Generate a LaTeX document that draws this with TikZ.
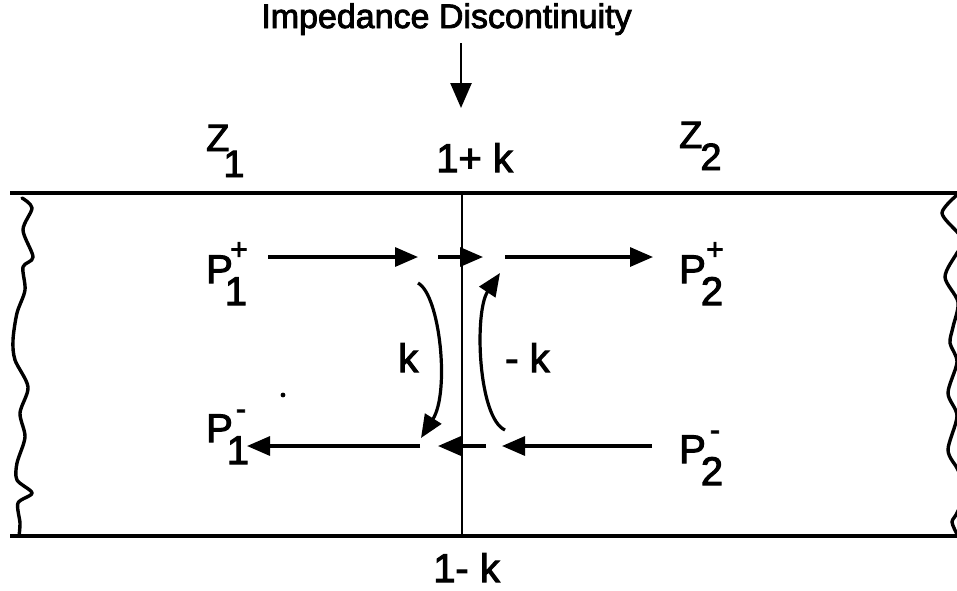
\documentclass[tikz,border=0pt]{standalone}
\usepackage{fontspec}
\setmainfont{Liberation Sans}[FakeBold=2.5]
\usetikzlibrary{arrows.meta}
\newsavebox\subbx
% #1 sub, #2 sup, #3 kern, #4 raise of sup
\newcommand{\Plab}[4]{P\kern#3\sbox\subbx{#1}\rlap{\raisebox{-22pt}{\usebox\subbx}}\makebox[\wd\subbx][c]{\kern6pt\raisebox{#4}{\fontsize{30}{30}\selectfont #2}}}
\begin{document}
\begin{tikzpicture}[x=1pt,y=-1pt,
  lab/.style={font=\fontsize{40}{40}\selectfont, inner sep=0pt, anchor=base west},
  zlab/.style={font=\fontsize{38}{38}\selectfont, inner sep=0pt, anchor=base west},
  arr/.style={line width=3.2pt, -{Triangle[length=23pt,width=19pt]}},
  edge/.style={line width=3.6pt},
  wavy/.style={line width=3.4pt, line join=round, line cap=round},
]
\useasboundingbox (0,0) rectangle (957,590);

% title and its arrow
\node[font=\fontsize{34}{34}\selectfont, inner sep=0pt, anchor=base] (title) at (446.5,28) {Impedance Discontinuity};
\coordinate (ta) at (461,43);
\coordinate (tb) at (461,108);
\draw[line width=2.6pt, -{Triangle[length=25pt,width=21pt]}] (ta) -- (tb);

% transmission line edges
\coordinate (TL) at (10,193); \coordinate (TR) at (957,193);
\coordinate (BL) at (10,536); \coordinate (BR) at (957,536);
\draw[edge] (TL) -- (TR);
\draw[edge] (BL) -- (BR);
\coordinate (VT) at (462,193); \coordinate (VB) at (462,536);
\draw[line width=1.8pt] (VT) -- (VB);

% wavy ends
\draw[wavy] plot[smooth, tension=0.5] coordinates {(22,198) (32,208) (23,230) (33,257) (23,267) (25,290) (17,313) (13,340) (15,360) (28,387) (20,413) (25,437) (17,463) (17,480) (32,493) (18,503) (20,523) (19,536)};
\begin{scope}
\clip (0,0) rectangle (957,590);
\draw[wavy] plot[smooth, tension=0.5] coordinates {(957,195) (942,213) (958,233) (964,243) (957,253) (945,277) (958,302) (953,327) (950,343) (957,362) (948,393) (957,416) (948,450) (958,470) (965,492) (957,513) (952,522) (957,534)};
\end{scope}

% labels
\node[zlab] (z1) at (206,151) {Z\kern-6pt\raisebox{-26pt}{1}};
\node[zlab] (z2) at (679,148) {Z\kern-2pt\raisebox{-22pt}{2}};
\node[lab] (onepk) at (436,172) {1+ k};
\node[lab] (onemk) at (433,582) {1- k};
\node[lab] (p1p) at (206,283) {\Plab{1}{+}{-8pt}{23.5pt}};
\node[lab] (p2p) at (679,283) {\Plab{2}{+}{-5pt}{23.5pt}};
\node[lab] (p1m) at (206,442) {\Plab{1}{-}{-6pt}{23pt}};
\node[lab] (p2m) at (679,463) {\Plab{2}{-}{-5pt}{23pt}};
\node[lab] (klab) at (398,372) {k};
\node[lab] (mklab) at (505,372) {- k};

% forward arrows
\coordinate (a1s) at (268,257); \coordinate (a1e) at (418,257);
\coordinate (a2s) at (438,257); \coordinate (a2e) at (483,257);
\coordinate (a3s) at (505,257); \coordinate (a3e) at (653,257);
\draw[arr] (a1s) -- (a1e);
\draw[arr] (a2s) -- (a2e);
\draw[arr] (a3s) -- (a3e);

% backward arrows
\coordinate (b1s) at (420,446); \coordinate (b1e) at (247,446);
\coordinate (b2s) at (486,446); \coordinate (b2e) at (438,446);
\coordinate (b3s) at (652,446); \coordinate (b3e) at (502,446);
\draw[arr] (b1s) -- (b1e);
\draw[arr] (b2s) -- (b2e);
\draw[arr] (b3s) -- (b3e);

% reflection arrows
\coordinate (k1) at (418,283); \coordinate (k2) at (421,438);
\draw[arr] (k1) .. controls (440,295) and (450,392) .. (k2);
\coordinate (m1) at (505,430); \coordinate (m2) at (500,273);
\draw[arr] (m1) .. controls (478,418) and (474,312) .. (m2);

% stray dot
\fill (283,395) circle (2.4pt);
\end{tikzpicture}
\end{document}
